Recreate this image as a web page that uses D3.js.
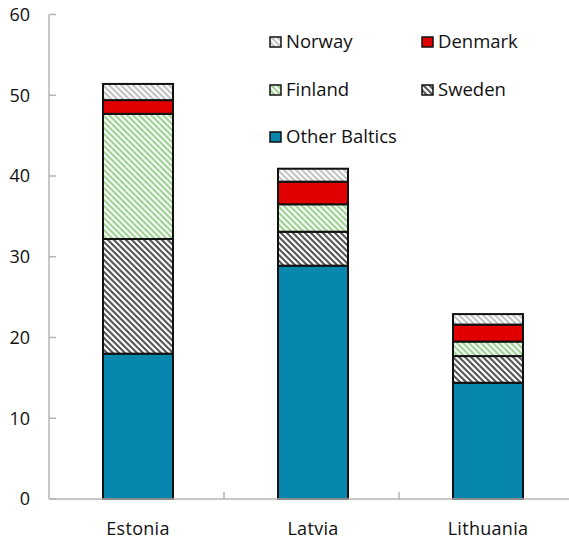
<!DOCTYPE html>
<html>
<head>
<meta charset="utf-8">
<script src="https://cdn.jsdelivr.net/npm/d3@7"></script>
<style>
  html, body { margin: 0; padding: 0; background: #fff; }
  svg { display: block; }
  text { font-family: "Open Sans", "Noto Sans", sans-serif; fill: #111; }
</style>
</head>
<body>
<svg id="chart" width="569" height="542"></svg>
<script>
// Countries on the horizontal axis
const categories = ["Estonia", "Latvia", "Lithuania"];

// Stacked shares per origin, bottom to top
const otherBaltics = [18.0, 28.9, 14.4];
const sweden       = [14.2, 4.2, 3.3];
const finland      = [15.5, 3.4, 1.8];
const denmark      = [1.7, 2.8, 2.1];
const norway       = [2.0, 1.6, 1.3];

const seriesKeys = ["Other Baltics", "Sweden", "Finland", "Denmark", "Norway"];
const seriesValues = [otherBaltics, sweden, finland, denmark, norway];

const yTicks = [0, 10, 20, 30, 40, 50, 60];

// Legend rows (left column, right column)
const legendRows = [["Norway", "Denmark"], ["Finland", "Sweden"], ["Other Baltics", null]];

const svg = d3.select("#chart");
const defs = svg.append("defs");

// Diagonal hatch fills
function hatch(id, color, width) {
  const p = defs.append("pattern")
    .attr("id", id)
    .attr("patternUnits", "userSpaceOnUse")
    .attr("width", 6).attr("height", 6);
  p.append("rect").attr("width", 6).attr("height", 6).attr("fill", "#fff");
  p.append("path")
    .attr("d", "M-3,-3 L9,9 M-3,3 L3,9 M3,-3 L9,3")
    .attr("stroke", color)
    .attr("stroke-width", width)
    .attr("fill", "none");
  return `url(#${id})`;
}

const fills = {
  "Other Baltics": "#0887ae",
  "Sweden": hatch("hatch-sweden", "#5a5a5a", 2.2),
  "Finland": hatch("hatch-finland", "#a6d49c", 2.4),
  "Denmark": "#e00000",
  "Norway": hatch("hatch-norway", "#c4c4c4", 2.2)
};

const rows = categories.map((c, i) => {
  const r = { category: c };
  seriesKeys.forEach((k, j) => { r[k] = seriesValues[j][i]; });
  return r;
});

const stacked = d3.stack().keys(seriesKeys)(rows);

const x = d3.scaleBand().domain(categories).range([50.5, 575.5]).padding(0);
const barW = x.bandwidth() * 0.4;
const y = d3.scaleLinear().domain([0, 60]).range([499, 14.5]);

const axisColor = "#b4b4b4";

// Bars
const g = svg.append("g");
stacked.forEach(layer => {
  g.selectAll(null)
    .data(layer)
    .enter().append("rect")
    .attr("x", d => x(d.data.category) + (x.bandwidth() - barW) / 2)
    .attr("y", d => y(d[1]))
    .attr("width", barW)
    .attr("height", d => y(d[0]) - y(d[1]))
    .attr("fill", fills[layer.key])
    .attr("stroke", "#111")
    .attr("stroke-width", 2);
});

// Y axis
const yAxis = svg.append("g").attr("transform", "translate(49,0)");
yAxis.append("line")
  .attr("x1", 0).attr("x2", 0)
  .attr("y1", y(60)).attr("y2", y(0))
  .attr("stroke", axisColor).attr("stroke-width", 1.5);
yAxis.selectAll(".tick")
  .data(yTicks)
  .enter().append("line")
  .attr("x1", 0).attr("x2", 7)
  .attr("y1", d => y(d)).attr("y2", d => y(d))
  .attr("stroke", axisColor).attr("stroke-width", 1.5);
yAxis.selectAll(".lbl")
  .data(yTicks)
  .enter().append("text")
  .attr("x", -19)
  .attr("y", d => y(d))
  .attr("dy", "0.35em")
  .attr("text-anchor", "end")
  .attr("font-size", 18)
  .text(d => d);

// X axis
const xAxis = svg.append("g");
xAxis.append("line")
  .attr("x1", 49).attr("x2", 575)
  .attr("y1", y(0)).attr("y2", y(0))
  .attr("stroke", axisColor).attr("stroke-width", 1.5);
xAxis.selectAll(".tick")
  .data(categories.slice(1))
  .enter().append("line")
  .attr("x1", d => x(d) - 1.5).attr("x2", d => x(d) - 1.5)
  .attr("y1", y(0)).attr("y2", y(0) - 7)
  .attr("stroke", axisColor).attr("stroke-width", 1.5);
xAxis.selectAll(".lbl")
  .data(categories)
  .enter().append("text")
  .attr("x", d => x(d) + x.bandwidth() / 2)
  .attr("y", 529)
  .attr("dy", "0.35em")
  .attr("text-anchor", "middle")
  .attr("font-size", 18)
  .attr("letter-spacing", 0.3)
  .text(d => d);

// Legend
const legendX = [270, 422];
const legendY = [42, 90, 137];
legendRows.forEach((row, ri) => {
  row.forEach((key, ci) => {
    if (!key) return;
    const lg = svg.append("g").attr("transform", `translate(${legendX[ci]},${legendY[ri]})`);
    lg.append("rect")
      .attr("x", 0).attr("y", -5)
      .attr("width", 11).attr("height", 10)
      .attr("fill", fills[key])
      .attr("stroke", "#111").attr("stroke-width", 1.5);
    lg.append("text")
      .attr("x", 16).attr("y", 0)
      .attr("dy", "0.35em")
      .attr("font-size", 18.5)
      .text(key);
  });
});
</script>
</body>
</html>
